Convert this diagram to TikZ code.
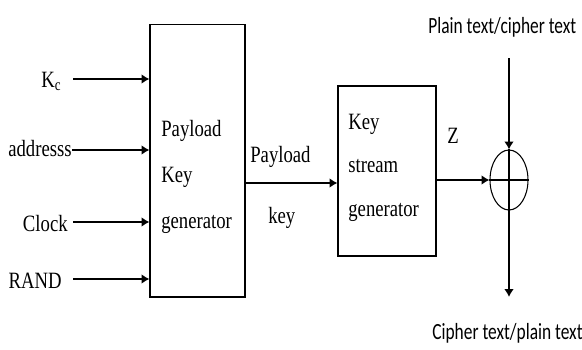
\documentclass[tikz,border=0pt]{standalone}
\usepackage{fontspec}
\setmainfont{Liberation Serif}[FakeStretch=0.8]
\newfontfamily\sidefont{Carlito}[FakeStretch=0.75]
\usetikzlibrary{arrows.meta,positioning,shapes.geometric}

\tikzset{
  block/.style={draw, line width=0.6pt, inner sep=0pt},
  txt/.style={inner sep=0pt, font=\fontsize{13.3}{15}\selectfont},
  side/.style={inner sep=0pt, font=\sidefont\fontsize{13.2}{15}\selectfont},
  arr/.style={-{Latex[length=4.5pt,width=5.5pt]}, line width=0.8pt},
}

\begin{document}
\begin{tikzpicture}[x=0.02cm,y=-0.02cm]
    \useasboundingbox (0,0) rectangle (582,349);
    % blocks
    \node [block, minimum width=1.9cm, minimum height=5.46cm] (pkg) at (197.5,160.5) {};
    \node [block, minimum width=1.96cm, minimum height=3.4cm] (ksg) at (387,171) {};
    \node [draw, line width=0.6pt, ellipse, inner sep=0pt, minimum width=0.76cm, minimum height=1.2cm] (xor) at (509,180) {};
    \draw [line width=0.6pt] (xor.west) -- (xor.east);
    \draw [line width=0.6pt] (xor.north) -- (xor.south);
    % block texts
    \node [txt, anchor=base west] (pkg1) at (161,136) {Payload};
    \node [txt, anchor=base west] (pkg2) at (161,182) {Key};
    \node [txt, anchor=base west] (pkg3) at (161,228) {generator};
    \node [txt, anchor=base west] (ksg1) at (348,129) {Key};
    \node [txt, anchor=base west] (ksg2) at (348,172) {stream};
    \node [txt, anchor=base west] (ksg3) at (348,216) {generator};
    % inputs
    \node [txt, anchor=base east] (kc) at (62,87) {K\textsubscript{c}};
    \node [txt, anchor=base east] (addr) at (72,156) {addresss};
    \node [txt, anchor=base east] (clk) at (68,231) {Clock};
    \node [txt, anchor=base east] (rand) at (62,288) {RAND};
    \coordinate (kcin) at (73,79);
    \coordinate (addrin) at (72,150);
    \coordinate (clkin) at (73,222);
    \coordinate (randin) at (73,279);
    \draw [arr] (kcin) -- (kcin -| pkg.west);
    \draw [arr] (addrin) -- (addrin -| pkg.west);
    \draw [arr] (clkin) -- (clkin -| pkg.west);
    \draw [arr] (randin) -- (randin -| pkg.west);
    % payload key
    \coordinate (pkout) at (245,183);
    \draw [arr] (pkout) -- (pkout -| ksg.west);
    \node [txt, anchor=base west] (pk1) at (250,162) {Payload};
    \node [txt, anchor=base west] (pk2) at (268,223) {key};
    % keystream
    \draw [arr] (ksg.east |- xor.west) -- (xor.west);
    \node [txt, anchor=base west] (z) at (447,143) {Z};
    % plain / cipher text
    \node [side, anchor=base west] (ptxt) at (428,33) {Plain text/cipher text};
    \node [side, anchor=base west] (ctxt) at (432,339) {Cipher text/plain text};
    \coordinate (ptin) at (509,58);
    \coordinate (ctout) at (509,297);
    \draw [arr] (ptin) -- (xor.north);
    \draw [arr] (xor.south) -- (ctout);
  \end{tikzpicture}
\end{document}
